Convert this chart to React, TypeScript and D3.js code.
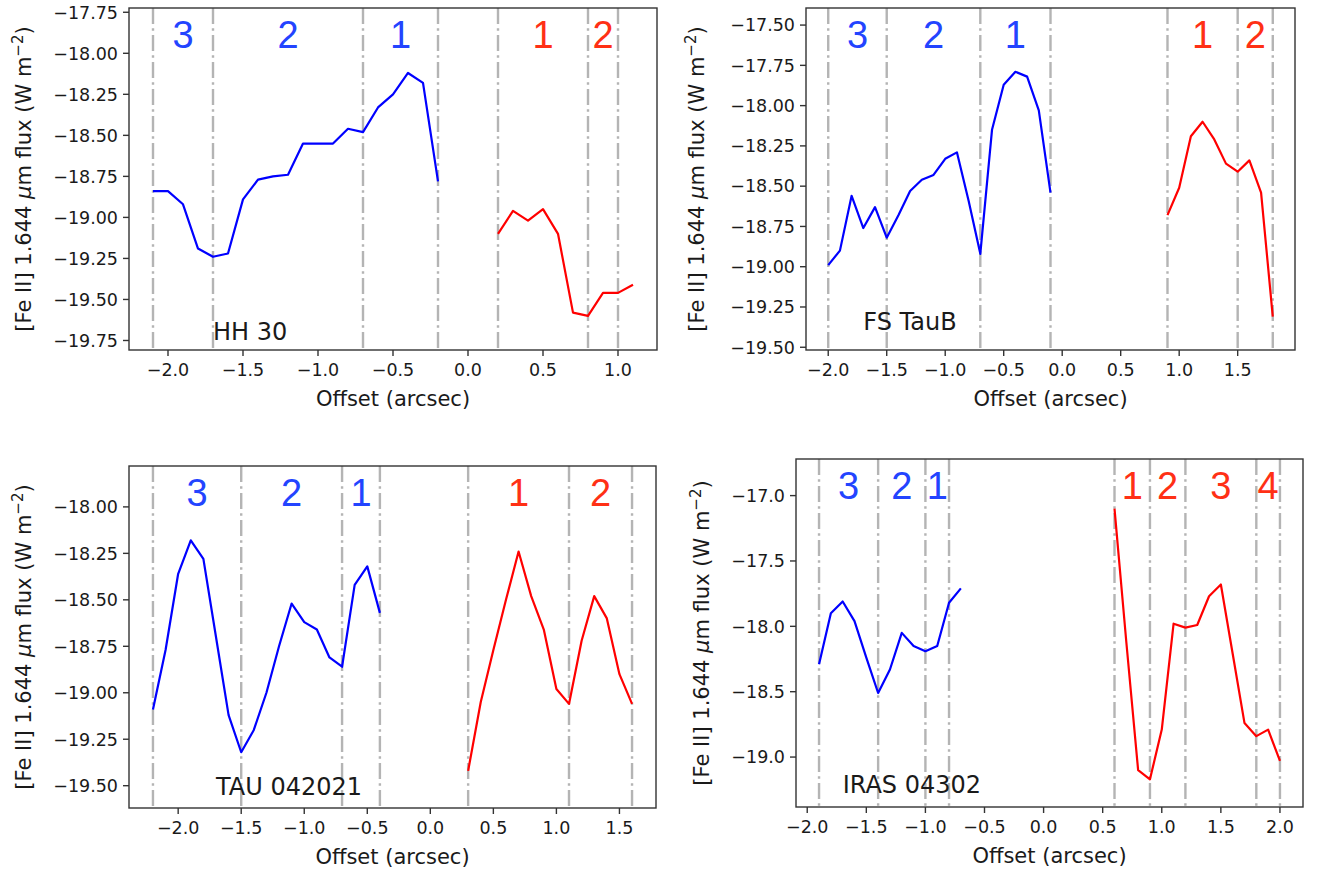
import React from "react";
import * as d3 from "d3";

// ---------- data ----------
const hh30BlueX = [-2.1, -2.0, -1.9, -1.8, -1.7, -1.6, -1.5, -1.4, -1.3, -1.2, -1.1, -1.0, -0.9, -0.8, -0.7, -0.6, -0.5, -0.4, -0.3, -0.2];
const hh30BlueY = [-18.84, -18.84, -18.92, -19.19, -19.24, -19.22, -18.89, -18.77, -18.75, -18.74, -18.55, -18.55, -18.55, -18.46, -18.48, -18.33, -18.25, -18.12, -18.18, -18.78];
const hh30RedX = [0.2, 0.3, 0.4, 0.5, 0.6, 0.7, 0.8, 0.9, 1.0, 1.1];
const hh30RedY = [-19.10, -18.96, -19.02, -18.95, -19.10, -19.58, -19.60, -19.46, -19.46, -19.41];
const hh30Bounds = [-2.1, -1.7, -0.7, -0.2, 0.2, 0.8, 1.0];
const hh30BlueKnots = ["3", "2", "1"];
const hh30RedKnots = ["1", "2"];

const fsBlueX = [-2.0, -1.9, -1.8, -1.7, -1.6, -1.5, -1.4, -1.3, -1.2, -1.1, -1.0, -0.9, -0.8, -0.7, -0.6, -0.5, -0.4, -0.3, -0.2, -0.1];
const fsBlueY = [-18.99, -18.90, -18.56, -18.76, -18.63, -18.82, -18.68, -18.53, -18.46, -18.43, -18.33, -18.29, -18.59, -18.92, -18.15, -17.87, -17.79, -17.82, -18.03, -18.54];
const fsRedX = [0.9, 1.0, 1.1, 1.2, 1.3, 1.4, 1.5, 1.6, 1.7, 1.8];
const fsRedY = [-18.68, -18.51, -18.19, -18.10, -18.21, -18.36, -18.41, -18.34, -18.54, -19.31];
const fsBounds = [-2.0, -1.5, -0.7, -0.1, 0.9, 1.5, 1.8];
const fsBlueKnots = ["3", "2", "1"];
const fsRedKnots = ["1", "2"];

const tauBlueX = [-2.2, -2.1, -2.0, -1.9, -1.8, -1.7, -1.6, -1.5, -1.4, -1.3, -1.2, -1.1, -1.0, -0.9, -0.8, -0.7, -0.6, -0.5, -0.4];
const tauBlueY = [-19.09, -18.77, -18.36, -18.18, -18.28, -18.70, -19.12, -19.32, -19.20, -19.00, -18.75, -18.52, -18.62, -18.66, -18.81, -18.86, -18.42, -18.32, -18.57];
const tauRedX = [0.3, 0.4, 0.5, 0.6, 0.7, 0.8, 0.9, 1.0, 1.1, 1.2, 1.3, 1.4, 1.5, 1.6];
const tauRedY = [-19.42, -19.05, -18.77, -18.50, -18.24, -18.48, -18.66, -18.98, -19.06, -18.72, -18.48, -18.60, -18.90, -19.06];
const tauBounds = [-2.2, -1.5, -0.7, -0.4, 0.3, 1.1, 1.6];
const tauBlueKnots = ["3", "2", "1"];
const tauRedKnots = ["1", "2"];

const irasBlueX = [-1.9, -1.8, -1.7, -1.6, -1.5, -1.4, -1.3, -1.2, -1.1, -1.0, -0.9, -0.8, -0.7];
const irasBlueY = [-18.29, -17.90, -17.81, -17.96, -18.24, -18.51, -18.33, -18.05, -18.15, -18.19, -18.15, -17.82, -17.71];
const irasRedX = [0.6, 0.7, 0.8, 0.9, 1.0, 1.1, 1.2, 1.3, 1.4, 1.5, 1.6, 1.7, 1.8, 1.9, 2.0];
const irasRedY = [-17.10, -18.12, -19.10, -19.17, -18.79, -17.98, -18.01, -17.99, -17.77, -17.68, -18.21, -18.74, -18.84, -18.79, -19.03];
const irasBounds = [-1.9, -1.4, -1.0, -0.8, 0.6, 0.9, 1.2, 1.8, 2.0];
const irasBlueKnots = ["3", "2", "1"];
const irasRedKnots = ["1", "2", "3", "4"];

const xTicksA = [-2.0, -1.5, -1.0, -0.5, 0.0, 0.5, 1.0];
const xTicksB = [-2.0, -1.5, -1.0, -0.5, 0.0, 0.5, 1.0, 1.5];
const xTicksC = [-2.0, -1.5, -1.0, -0.5, 0.0, 0.5, 1.0, 1.5, 2.0];
const yTicksHH = [-17.75, -18.0, -18.25, -18.5, -18.75, -19.0, -19.25, -19.5, -19.75];
const yTicksFS = [-17.5, -17.75, -18.0, -18.25, -18.5, -18.75, -19.0, -19.25, -19.5];
const yTicksTAU = [-18.0, -18.25, -18.5, -18.75, -19.0, -19.25, -19.5];
const yTicksIRAS = [-17.0, -17.5, -18.0, -18.5, -19.0];

const sourceNames = ["HH 30", "FS TauB", "TAU 042021", "IRAS 04302"];
const nameAnchorX = [-1.7, -1.7, -1.7, -1.7];
const nameAnchorY = [-19.747, -19.394, -19.55, -19.275];

// ---------- layout ----------
const panels = [
  { name: sourceNames[0], nx: nameAnchorX[0], ny: nameAnchorY[0], box: [129, 8, 657, 350], xd: [-2.26, 1.26], yd: [-19.808, -17.724], xt: xTicksA, yt: yTicksHH, yf: ".2f",
    bx: hh30BlueX, by: hh30BlueY, rx: hh30RedX, ry: hh30RedY, bounds: hh30Bounds, bk: hh30BlueKnots, rk: hh30RedKnots, ylx: 31 },
  { name: sourceNames[1], nx: nameAnchorX[1], ny: nameAnchorY[1], box: [806, 8, 1295, 350], xd: [-2.19, 1.99], yd: [-19.517, -17.394], xt: xTicksB, yt: yTicksFS, yf: ".2f",
    bx: fsBlueX, by: fsBlueY, rx: fsRedX, ry: fsRedY, bounds: fsBounds, bk: fsBlueKnots, rk: fsRedKnots, ylx: 704 },
  { name: sourceNames[2], nx: nameAnchorX[2], ny: nameAnchorY[2], box: [129, 466, 656, 808], xd: [-2.39, 1.79], yd: [-19.62, -17.78], xt: xTicksB, yt: yTicksTAU, yf: ".2f",
    bx: tauBlueX, by: tauBlueY, rx: tauRedX, ry: tauRedY, bounds: tauBounds, bk: tauBlueKnots, rk: tauRedKnots, ylx: 31 },
  { name: sourceNames[3], nx: nameAnchorX[3], ny: nameAnchorY[3], box: [796, 459, 1303, 807], xd: [-2.095, 2.195], yd: [-19.382, -16.72], xt: xTicksC, yt: yTicksIRAS, yf: ".1f",
    bx: irasBlueX, by: irasBlueY, rx: irasRedX, ry: irasRedY, bounds: irasBounds, bk: irasBlueKnots, rk: irasRedKnots, ylx: 709 },
];

const TXT = "#1a1a1a";
const AX = "#333";
const FONT = "'DejaVu Sans', sans-serif";
const KNOT_FONT = "'Liberation Sans', Arial, sans-serif";

const fmtNum = (f: string) => (v: number) => d3.format(f)(v).replace("-", "\u2212");

function Panel({ p }: { p: any }) {
  const [x0, y0, x1, y1] = p.box;
  const x = d3.scaleLinear().domain(p.xd).range([x0, x1]);
  const y = d3.scaleLinear().domain(p.yd).range([y1, y0]);
  const line = d3.line<[number, number]>().x((d) => x(d[0])).y((d) => y(d[1]));
  const blue = p.bx.map((v: number, i: number) => [v, p.by[i]] as [number, number]);
  const red = p.rx.map((v: number, i: number) => [v, p.ry[i]] as [number, number]);
  const yf = fmtNum(p.yf);
  const xf = fmtNum(".1f");
  const nb = p.bk.length;
  const knotY = y0 + 40;
  const knots: any[] = [];
  for (let i = 0; i < p.bounds.length - 1; i++) {
    const isBlue = i < nb;
    const isGap = i === nb;
    if (isGap) continue;
    const label = isBlue ? p.bk[i] : p.rk[i - nb - 1];
    const cx = x((p.bounds[i] + p.bounds[i + 1]) / 2);
    knots.push(
      <text key={"k" + i} x={cx} y={knotY} textAnchor="middle" fontFamily={KNOT_FONT} fontSize={38}
        fill={isBlue ? "#2344ff" : "#ff3015"}>{label}</text>
    );
  }
  const cy = (y0 + y1) / 2;
  return (
    <g>
      {p.bounds.map((b: number, i: number) => (
        <line key={"b" + i} x1={x(b)} x2={x(b)} y1={y0} y2={y1} stroke="#b4b4b4" strokeWidth={2.4}
          strokeDasharray="16,4.2,2.6,4.2" />
      ))}
      <path d={line(blue) || ""} fill="none" stroke="#0000ff" strokeWidth={2.2} strokeLinejoin="round" />
      <path d={line(red) || ""} fill="none" stroke="#ff0000" strokeWidth={2.2} strokeLinejoin="round" />
      {knots}
      <text x={x(p.nx)} y={y(p.ny)} fontFamily={FONT} fontSize={24} fill={TXT}>{p.name}</text>
      <rect x={x0} y={y0} width={x1 - x0} height={y1 - y0} fill="none" stroke={AX} strokeWidth={1.4} />
      {p.xt.map((t: number, i: number) => (
        <g key={"xt" + i}>
          <line x1={x(t)} x2={x(t)} y1={y1} y2={y1 + 6} stroke={AX} strokeWidth={1.4} />
          <text x={x(t)} y={y1 + 26} textAnchor="middle" fontFamily={FONT} fontSize={17.5} fill={TXT}>{xf(t)}</text>
        </g>
      ))}
      {p.yt.map((t: number, i: number) => (
        <g key={"yt" + i}>
          <line x1={x0 - 6} x2={x0} y1={y(t)} y2={y(t)} stroke={AX} strokeWidth={1.4} />
          <text x={x0 - 11} y={y(t)} dy="0.36em" textAnchor="end" fontFamily={FONT} fontSize={17.5} fill={TXT}>{yf(t)}</text>
        </g>
      ))}
      <text x={(x0 + x1) / 2} y={y1 + 56} textAnchor="middle" fontFamily={FONT} fontSize={21} fill={TXT}>Offset (arcsec)</text>
      <text transform={`translate(${p.ylx},${cy}) rotate(-90)`} textAnchor="middle" fontFamily={FONT} fontSize={21} fill={TXT}>
        [Fe II] 1.644 <tspan fontStyle="italic">μ</tspan>m flux (W m<tspan dy="-8" fontSize={15}>−2</tspan><tspan dy="8">)</tspan>
      </text>
    </g>
  );
}

export default function App() {
  return (
    <svg width={1340} height={875} style={{ position: "absolute", left: 0, top: 0, background: "#fff" }}>
      <rect x={0} y={0} width={1340} height={875} fill="#fff" />
      {panels.map((p, i) => (
        <Panel key={i} p={p} />
      ))}
    </svg>
  );
}
